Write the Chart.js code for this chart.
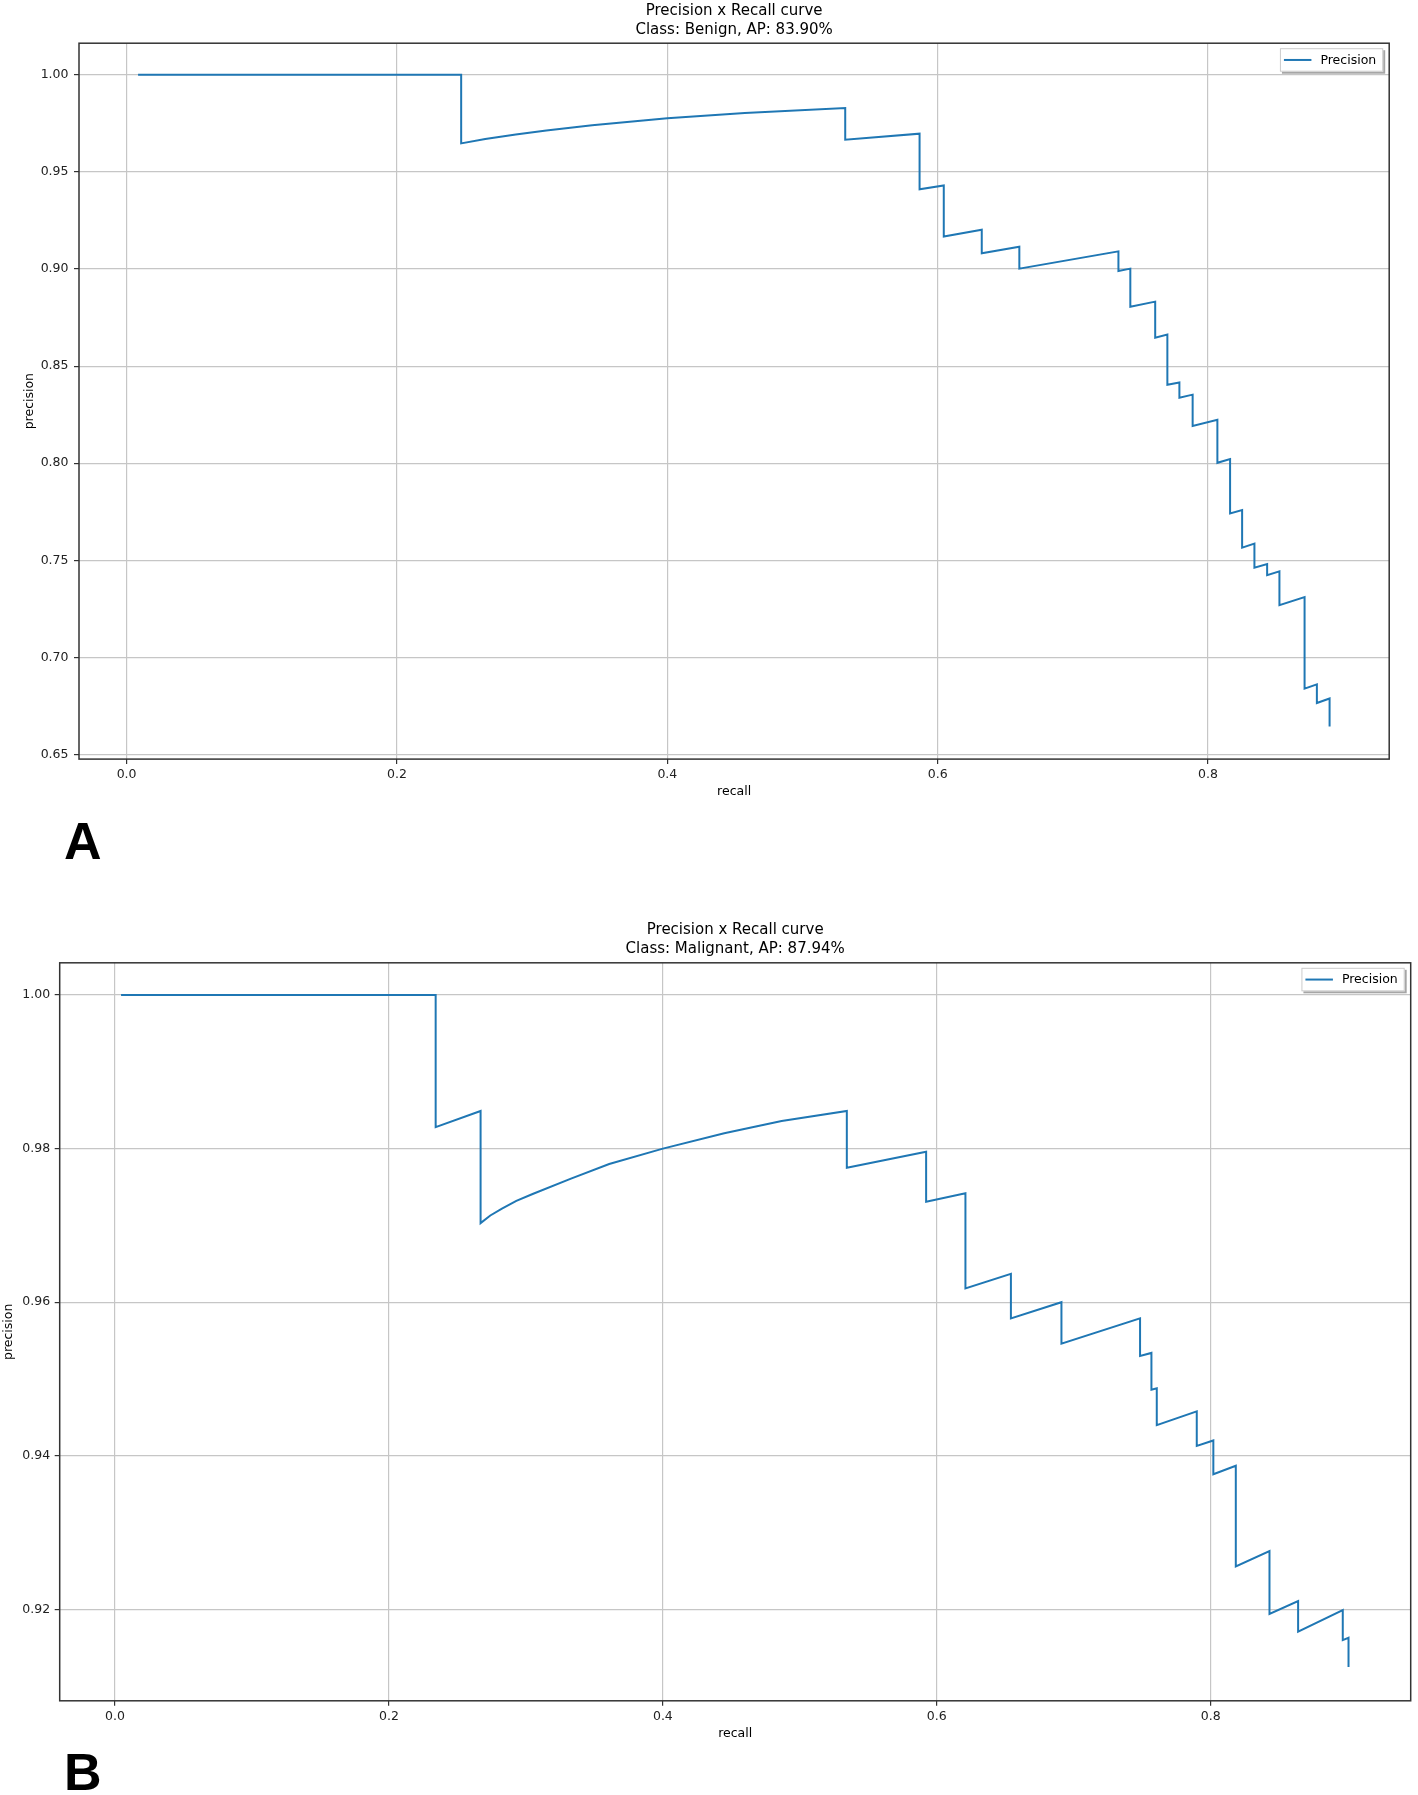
<!DOCTYPE html>
<html>
<head>
<meta charset="utf-8">
<script src="https://cdn.jsdelivr.net/npm/chart.js@4.4.1/dist/chart.umd.min.js"></script>
<style>
  body { margin: 0; background: #fff; }
  #page { position: relative; width: 1418px; height: 1795px; overflow: hidden; background: #fff; }
  canvas { position: absolute; left: 0; }
  .panel-label { position: absolute; left: 64px; font: bold 52px "Liberation Sans", Arial, sans-serif; line-height: 52px; color: #000; }
</style>
</head>
<body>
<div id="page">
  <canvas id="chartA" width="1418" height="800" style="top:0px"></canvas>
  <canvas id="chartB" width="1418" height="850" style="top:900px"></canvas>
  <div class="panel-label" style="top:815px">A</div>
  <div class="panel-label" style="top:1746px">B</div>
</div>
<script>
// Panel A - Benign
const benignRecall = [0.0085, 0.2475, 0.2475, 0.2653, 0.2879, 0.3105, 0.3444, 0.4000, 0.4573, 0.5316,
  0.5316, 0.5866, 0.5866, 0.6045, 0.6045, 0.6326, 0.6326, 0.6604, 0.6604, 0.7337,
  0.7337, 0.7425, 0.7425, 0.7609, 0.7609, 0.7699, 0.7699, 0.7788, 0.7788, 0.7886,
  0.7886, 0.8069, 0.8069, 0.8163, 0.8163, 0.8252, 0.8252, 0.8343, 0.8343, 0.8437,
  0.8437, 0.8528, 0.8528, 0.8714, 0.8714, 0.8805, 0.8805, 0.8899, 0.8899];
const benignPrecision = [1.0, 1.0, 0.9647, 0.9670, 0.9693, 0.9714, 0.9741, 0.9776, 0.9803, 0.9829,
  0.9666, 0.9697, 0.9411, 0.9430, 0.9167, 0.9202, 0.9081, 0.9115, 0.9002, 0.9091,
  0.8990, 0.9002, 0.8806, 0.8832, 0.8646, 0.8662, 0.8404, 0.8416, 0.8337, 0.8353,
  0.8192, 0.8224, 0.8002, 0.8021, 0.7741, 0.7759, 0.7565, 0.7586, 0.7462, 0.7481,
  0.7423, 0.7443, 0.7269, 0.7310, 0.6839, 0.6861, 0.6765, 0.6788, 0.6644];

// Panel B - Malignant
const malignantRecall = [0.0044, 0.2341, 0.2341, 0.2669, 0.2669, 0.2740, 0.2825, 0.2930, 0.3049, 0.3329,
  0.3608, 0.4000, 0.4448, 0.4867, 0.5343, 0.5343, 0.5922, 0.5922, 0.6209, 0.6209,
  0.6541, 0.6541, 0.6910, 0.6910, 0.7484, 0.7484, 0.7567, 0.7567, 0.7606, 0.7606,
  0.7898, 0.7898, 0.8019, 0.8019, 0.8183, 0.8183, 0.8429, 0.8429, 0.8638, 0.8638,
  0.8964, 0.8964, 0.9006, 0.9006];
const malignantPrecision = [1.0, 1.0, 0.9828, 0.9849, 0.9703, 0.9713, 0.9722, 0.9732, 0.9741, 0.9761,
  0.9780, 0.9800, 0.9820, 0.9836, 0.9849, 0.9775, 0.9796, 0.9731, 0.9742, 0.9618,
  0.9637, 0.9579, 0.9600, 0.9546, 0.9579, 0.9530, 0.9534, 0.9486, 0.9488, 0.9440,
  0.9458, 0.9413, 0.9420, 0.9376, 0.9387, 0.9256, 0.9276, 0.9194, 0.9211, 0.9171,
  0.9199, 0.9160, 0.9163, 0.9125];

// Tick labels
const recallTicks = [0.0, 0.2, 0.4, 0.6, 0.8];
const benignTicks = [0.65, 0.70, 0.75, 0.80, 0.85, 0.90, 0.95, 1.00];
const malignantTicks = [0.92, 0.94, 0.96, 0.98, 1.00];

const FONT = '"DejaVu Sans", Verdana, sans-serif';
const LINE_COLOR = '#1f77b4';

// frame round the plot + legend box drawn inside the axes, top right
const frameAndLegend = {
    id: 'frameAndLegend',
    afterDraw(chart) {
        const { ctx, chartArea: a } = chart;
        ctx.save();
        ctx.strokeStyle = '#333';
        ctx.lineWidth = 1.5;
        ctx.strokeRect(a.left, a.top, a.right - a.left, a.bottom - a.top);

        const label = chart.data.datasets[0].label;
        ctx.font = '12.5px ' + FONT;
        const tw = ctx.measureText(label).width;
        const w = 4 + 27.5 + 9 + tw + 7;
        const h = 23.5;
        const x = a.right - 6 - w;
        const y = a.top + 5;
        // shadow
        ctx.fillStyle = 'rgba(0,0,0,0.35)';
        ctx.fillRect(x + 2, y + 2, w, h);
        ctx.fillStyle = '#fff';
        ctx.fillRect(x, y, w, h);
        ctx.strokeStyle = '#cccccc';
        ctx.lineWidth = 1;
        ctx.strokeRect(x + 0.5, y + 0.5, w - 1, h - 1);
        // handle
        ctx.strokeStyle = LINE_COLOR;
        ctx.lineWidth = 2;
        ctx.beginPath();
        ctx.moveTo(x + 4, y + h / 2);
        ctx.lineTo(x + 31.5, y + h / 2);
        ctx.stroke();
        ctx.fillStyle = '#000';
        ctx.textBaseline = 'middle';
        ctx.fillText(label, x + 40.5, y + h / 2 + 0.5);
        ctx.restore();
    }
};

function makeChart(canvasId, recall, precision, className, yTicks, lim, geo) {
    const points = recall.map((r, i) => ({ x: r, y: precision[i] }));
    const canvas = document.getElementById(canvasId);
    return new Chart(canvas.getContext('2d'), {
        type: 'scatter',
        data: {
            datasets: [{
                label: 'Precision',
                data: points,
                showLine: true,
                borderColor: LINE_COLOR,
                borderWidth: 2,
                pointRadius: 0,
                tension: 0,
                fill: false
            }]
        },
        options: {
            responsive: false,
            animation: false,
            devicePixelRatio: 1,
            layout: { padding: { left: 0, right: canvas.width - geo.right, top: 0, bottom: 0 } },
            plugins: {
                legend: { display: false },
                tooltip: { enabled: false },
                title: {
                    display: true,
                    fullSize: false,
                    text: ['Precision x Recall curve', 'Class: ' + className],
                    color: '#000',
                    font: { family: FONT, size: 15, weight: 'normal', lineHeight: 1.247 },
                    padding: { top: geo.titleTop, bottom: geo.titleBottom }
                }
            },
            scales: {
                x: {
                    type: 'linear',
                    min: lim.xMin,
                    max: lim.xMax,
                    afterBuildTicks: axis => { axis.ticks = recallTicks.map(v => ({ value: v })); },
                    afterFit: scale => { scale.height = canvas.height - geo.bottom; },
                    border: { display: false },
                    grid: { color: '#c6c6c6', lineWidth: 1.2, drawTicks: true, tickLength: 5, tickColor: '#333', tickWidth: 1.2 },
                    ticks: {
                        color: '#222', padding: 3,
                        font: { family: FONT, size: 12.5 },
                        callback: v => v.toFixed(1)
                    },
                    title: {
                        display: true, text: 'recall', color: '#000',
                        font: { family: FONT, size: 12.5 }, padding: { top: 0, bottom: geo.xTitlePad }
                    }
                },
                y: {
                    type: 'linear',
                    min: lim.yMin,
                    max: lim.yMax,
                    afterBuildTicks: axis => { axis.ticks = yTicks.map(v => ({ value: v })); },
                    afterFit: scale => { scale.width = geo.left; },
                    border: { display: false },
                    grid: { color: '#c6c6c6', lineWidth: 1.2, drawTicks: true, tickLength: 5, tickColor: '#333', tickWidth: 1.2 },
                    ticks: {
                        color: '#222', padding: geo.yTickPad,
                        font: { family: FONT, size: 12.5 },
                        callback: v => v.toFixed(2)
                    },
                    title: {
                        display: true, text: 'precision', color: '#000',
                        font: { family: FONT, size: 12.5 }, padding: { top: geo.yTitlePad, bottom: 0 }
                    }
                }
            }
        },
        plugins: [frameAndLegend]
    });
}

makeChart('chartA', benignRecall, benignPrecision, 'Benign, AP: 83.90%', benignTicks,
    { xMin: -0.0352, xMax: 0.934, yMin: 0.6476, yMax: 1.0163 },
    { left: 79, right: 1389.2, bottom: 759.1, titleTop: 2.2, titleBottom: 3.6, xTitlePad: 0.8, yTitlePad: 22.5, yTickPad: 5.5 });

makeChart('chartB', malignantRecall, malignantPrecision, 'Malignant, AP: 87.94%', malignantTicks,
    { xMin: -0.0404, xMax: 0.946, yMin: 0.9081, yMax: 1.0042 },
    { left: 59.7, right: 1410.7, bottom: 800.8, titleTop: 21, titleBottom: 4.4, xTitlePad: 8.5, yTitlePad: 1.5, yTickPad: 4.5 });
</script>
</body>
</html>
